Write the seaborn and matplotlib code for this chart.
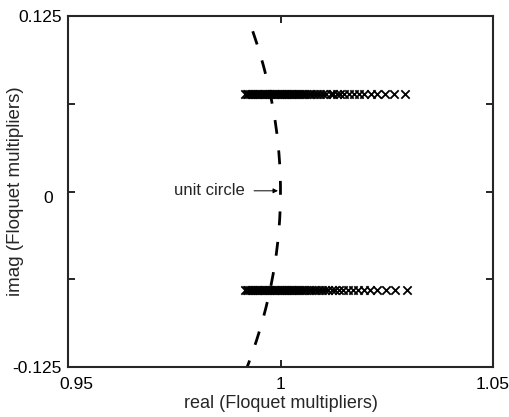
import numpy as np
import pandas as pd
import matplotlib
matplotlib.use("Agg")
import matplotlib.pyplot as plt
import matplotlib.transforms as mtransforms
import seaborn as sns

# Floquet multipliers (complex-conjugate pair rows)
top_real = [0.9916, 0.9920, 0.9924, 0.9928, 0.9932, 0.9936, 0.9940, 0.9944, 0.9948,
            0.9952, 0.9956, 0.9960, 0.9964, 0.9968, 0.9972, 0.9976, 0.9980, 0.9984,
            0.9988, 0.9992, 0.9996, 1.0000, 1.0004, 1.0008, 1.0012, 1.0016, 1.0020,
            1.0024, 1.0028, 1.0032, 1.0036, 1.0040, 1.0045, 1.0050, 1.0055, 1.0060,
            1.0066, 1.0072, 1.0078, 1.0086, 1.0094, 1.0100, 1.0106, 1.0118, 1.0124,
            1.0132, 1.0140, 1.0150, 1.0160, 1.0172, 1.0184, 1.0197, 1.0212, 1.0228,
            1.0245, 1.0266, 1.0293]
top_imag = 0.0695

bot_real = [0.9916, 0.9920, 0.9924, 0.9928, 0.9932, 0.9936, 0.9940, 0.9944, 0.9948,
            0.9952, 0.9956, 0.9960, 0.9964, 0.9968, 0.9972, 0.9976, 0.9980, 0.9984,
            0.9988, 0.9992, 0.9996, 1.0000, 1.0004, 1.0008, 1.0012, 1.0016, 1.0020,
            1.0024, 1.0028, 1.0032, 1.0036, 1.0040, 1.0045, 1.0050, 1.0055, 1.0060,
            1.0066, 1.0072, 1.0078, 1.0084, 1.0090, 1.0097, 1.0104, 1.0112, 1.0120,
            1.0129, 1.0138, 1.0148, 1.0158, 1.0170, 1.0182, 1.0196, 1.0211, 1.0228,
            1.0248, 1.0270, 1.0298]
bot_imag = -0.0705

xticks = [0.95, 1.0, 1.05]
xticklabels = ["0.95", "1", "1.05"]
yticks = [-0.125, -0.0625, 0, 0.0625, 0.125]
yticklabels = ["-0.125", "", "0", "", "0.125"]

# unit circle near z = 1
theta = np.linspace(-0.13, 0.13, 200)
circle = pd.DataFrame({"re": np.cos(theta), "im": np.sin(theta)})

mult = pd.DataFrame({
    "re": top_real + bot_real,
    "im": [top_imag] * len(top_real) + [bot_imag] * len(bot_real),
})

sns.set_style("ticks")
plt.rcParams["font.family"] = ["Liberation Sans", "DejaVu Sans"]

fig = plt.figure(figsize=(5.09, 4.17), dpi=100)
ax = fig.add_axes([0.1336, 0.1199, 0.835, 0.8417])

sns.lineplot(data=circle, x="re", y="im", sort=False, estimator=None,
             color="black", lw=2.0, dashes=False, ax=ax)
ax.lines[0].set_dashes((5, 6))

sns.scatterplot(data=mult, x="re", y="im", marker="x", color="black",
                s=36, linewidth=1.3, ax=ax)

ax.annotate("unit circle", xy=(0.9994, 0.0005), xytext=(0.9917, 0.0005),
            ha="right", va="center", fontsize=12,
            arrowprops=dict(arrowstyle="-|>", color="black", lw=0.7,
                            mutation_scale=7, shrinkA=4, shrinkB=0))

ax.set_xlim(0.95, 1.05)
ax.set_ylim(-0.125, 0.125)
ax.set_xticks(xticks)
ax.set_xticklabels(xticklabels)
ax.set_yticks(yticks)
ax.set_yticklabels(yticklabels)
ax.tick_params(direction="in", length=5, width=1.2, top=True, right=True,
               labelsize=12.5, colors="black")
ax.tick_params(axis="x", pad=7)
ax.tick_params(axis="y", pad=4.5)
for s in ax.spines.values():
    s.set_linewidth(1.5)
    s.set_visible(True)

# nudge a couple of tick labels like the original
fig.canvas.draw()
for lab in ax.get_yticklabels():
    if lab.get_text() == "0":
        lab.set_transform(lab.get_transform() +
                          mtransforms.ScaledTranslation(-0.09, -0.05, fig.dpi_scale_trans))
for lab in ax.get_xticklabels():
    if lab.get_text() == "0.95":
        lab.set_transform(lab.get_transform() +
                          mtransforms.ScaledTranslation(0.08, 0, fig.dpi_scale_trans))

ax.set_xlabel("real (Floquet multipliers)", fontsize=13, labelpad=2)
ax.set_ylabel("imag (Floquet multipliers)", fontsize=13.5)
ax.yaxis.set_label_coords(-0.1035, 0.5)

fig.savefig("out.png", dpi=100)
